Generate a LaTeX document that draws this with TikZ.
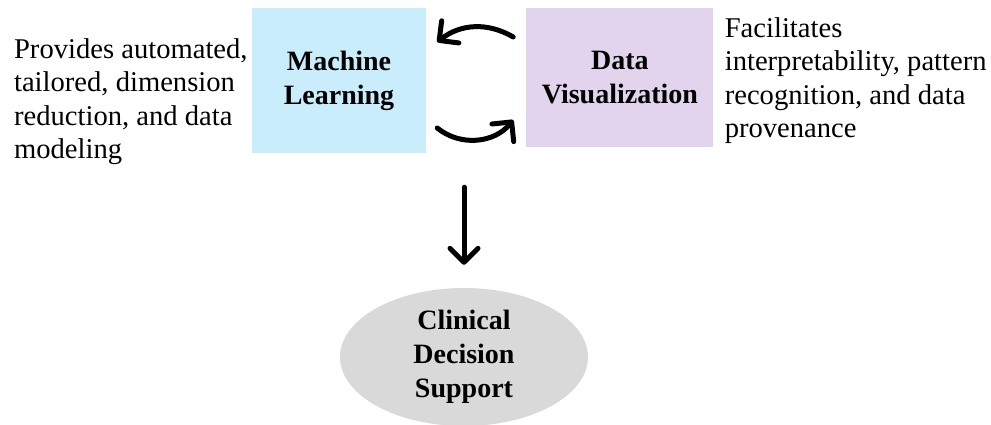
\documentclass[tikz,border=0pt]{standalone}
\usepackage{fontspec}
\setmainfont{Liberation Serif}
\usetikzlibrary{shapes.geometric,positioning,arrows.meta}
\definecolor{mlblue}{HTML}{C9EDFB}
\definecolor{dvlilac}{HTML}{E1D4EC}
\definecolor{cdsgrey}{HTML}{D9D9D9}

\begin{document}
\begin{tikzpicture}
  [
    block/.style={rectangle, inner sep=2pt, align=center, font=\fontsize{28pt}{34pt}\selectfont\bfseries},
    goal/.style={ellipse, fill=cdsgrey, minimum width=248pt, minimum height=138pt, inner sep=2pt, align=center, font=\fontsize{28pt}{34pt}\selectfont\bfseries},
    desc/.style={inner sep=0pt, align=left, font=\fontsize{28.6pt}{33.5pt}\selectfont},
    flow/.style={line width=5pt, line cap=round, -{Straight Barb[length=14pt,width=28pt,round]}},
    node distance=100pt
  ]
  \useasboundingbox (0,0) rectangle (991pt,425pt);
  \node (ml) [block, fill=mlblue, minimum width=174pt, minimum height=145pt] at (339pt,344.5pt) {Machine\\Learning};
  \node (dv) [block, fill=dvlilac, minimum width=187pt, minimum height=139pt, right=100pt of ml, yshift=3pt] {Data\\Visualization};
  \node (cds) [goal] at (464pt,68pt) {Clinical\\Decision\\Support};
  \node (mldesc) [desc, left=4pt of ml.west, yshift=-21pt] {Provides automated,\\tailored, dimension\\reduction, and data\\modeling};
  \node (dvdesc) [desc, right=11pt of dv.east, yshift=-3pt] {Facilitates\\interpretability, pattern\\recognition, and data\\provenance};

  \draw [flow] ([xshift=-13pt,yshift=40.5pt]dv.west) to[bend right=34] ([xshift=11pt,yshift=38.5pt]ml.east);
  \draw [flow] ([xshift=11pt,yshift=-47.5pt]ml.east) to[bend right=45] ([xshift=-13pt,yshift=-42.5pt]dv.west);
  \draw [flow, shorten <=34pt, shorten >=23pt] (cds.north |- ml.south) -- (cds.north);
\end{tikzpicture}
\end{document}
